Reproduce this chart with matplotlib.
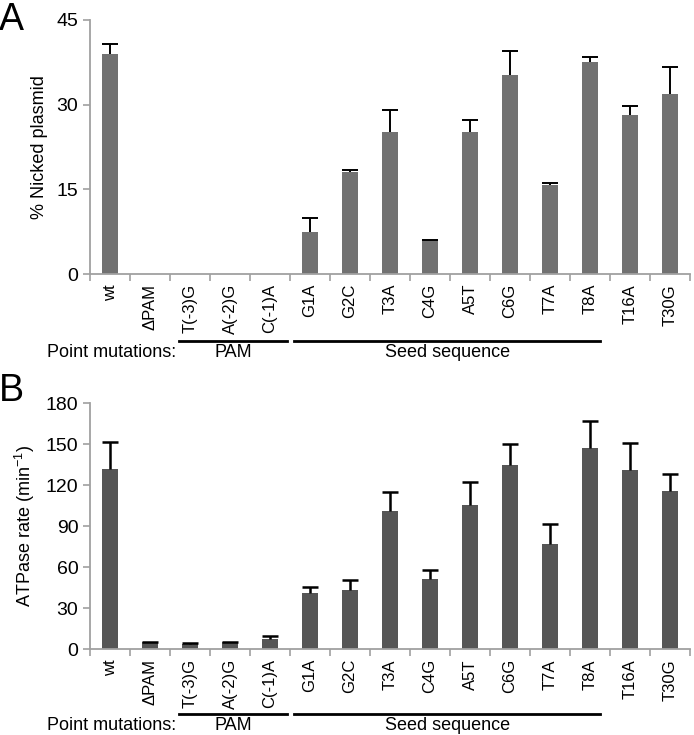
import numpy as np
import matplotlib
matplotlib.use("Agg")
import matplotlib.pyplot as plt
import matplotlib.transforms as mtransforms

plt.rcParams["font.family"] = ["Liberation Sans", "DejaVu Sans"]
plt.rcParams["mathtext.fontset"] = "custom"
plt.rcParams["mathtext.rm"] = "Liberation Sans"
plt.rcParams["mathtext.it"] = "Liberation Sans"

# ── data ──────────────────────────────────────────────────────────────────────
labels = ["wt", "ΔPAM", "T(-3)G", "A(-2)G", "C(-1)A", "G1A", "G2C", "T3A",
          "C4G", "A5T", "C6G", "T7A", "T8A", "T16A", "T30G"]

# nan = no error bar shown
nicked      = [38.9, 0.1, 0.1, 0.1, 0.1, 7.4, 18.0, 25.2, 6.0, 25.2, 35.2, 15.7, 37.5, 28.2, 31.8]
nicked_err  = [1.8, np.nan, np.nan, np.nan, np.nan, 2.5, 0.5, 3.9, 0.1, 2.0, 4.2, 0.4, 1.0, 1.6, 4.8]

atpase      = [132.1, 5.0, 4.0, 5.0, 7.5, 41.4, 43.2, 101.2, 51.4, 105.3, 135.0, 77.0, 147.5, 131.0, 115.8]
atpase_err  = [19.6, 0.5, 0.5, 0.5, 2.0, 4.2, 7.8, 14.1, 6.6, 17.1, 15.0, 14.4, 19.5, 19.7, 12.2]

a_ticks = [0, 15, 30, 45]
b_ticks = [0, 30, 60, 90, 120, 150, 180]

# group underlines: (label, x_start, x_end) in category units
groups = [("PAM", 1.73, 4.43), ("Seed sequence", 4.61, 12.25)]

n = len(labels)


def draw_panel(ax, vals, errs, ticks, color, ylabel, letter, elw, letter_y):
    x = np.arange(n)
    ax.bar(x, vals, width=0.4, color=color, zorder=2)
    _, caps, _ = ax.errorbar(x, vals, yerr=[np.zeros(n), errs], fmt="none",
                             ecolor="black", elinewidth=elw, capsize=6,
                             capthick=elw, zorder=3)
    caps[0].set_visible(False)  # upper bars only

    ax.set_xlim(-0.5, n - 0.5)
    ax.set_ylim(ticks[0], ticks[-1])
    ax.set_yticks(ticks)
    ax.tick_params(axis="y", labelsize=14, color="#a0a0a0", length=5, width=1.2)

    ax.set_xticks(x)
    ax.set_xticklabels(labels, rotation=90, fontsize=12)
    ax.tick_params(axis="x", which="major", length=0, pad=7)
    ax.set_xticks(np.arange(n + 1) - 0.5, minor=True)
    ax.tick_params(axis="x", which="minor", length=5, width=1.2, color="#a0a0a0")

    for s in ["top", "right"]:
        ax.spines[s].set_visible(False)
    for s in ["left", "bottom"]:
        ax.spines[s].set_color("#a0a0a0")
        ax.spines[s].set_linewidth(1.3)

    ax.set_ylabel(ylabel, fontsize=13, labelpad=6)

    trans = mtransforms.blended_transform_factory(ax.transData, ax.transAxes)
    for name, x0, x1 in groups:
        ax.plot([x0, x1], [-0.262, -0.262], color="black", lw=2,
                transform=trans, clip_on=False)
        ax.text((x0 + x1) / 2, -0.31, name, transform=trans, fontsize=13,
                ha="center", va="center")
    ax.text(0.03, -0.31, "Point mutations:", transform=trans, fontsize=13,
            ha="center", va="center")

    ax.text(-0.152, letter_y, letter, transform=ax.transAxes, fontsize=27,
            ha="left", va="center")


fig = plt.figure(figsize=(6.94, 7.35), dpi=100)
ax_a = fig.add_axes([0.130, 0.627, 0.864, 0.346])
ax_b = fig.add_axes([0.130, 0.1166, 0.864, 0.3346])

draw_panel(ax_a, nicked, nicked_err, a_ticks, "#717171", "% Nicked plasmid", "A", 1.4, 1.0)
draw_panel(ax_b, atpase, atpase_err, b_ticks, "#555555", "ATPase rate (min$^{-1}$)", "B", 1.8, 1.05)

fig.savefig("out.png", dpi=100)
